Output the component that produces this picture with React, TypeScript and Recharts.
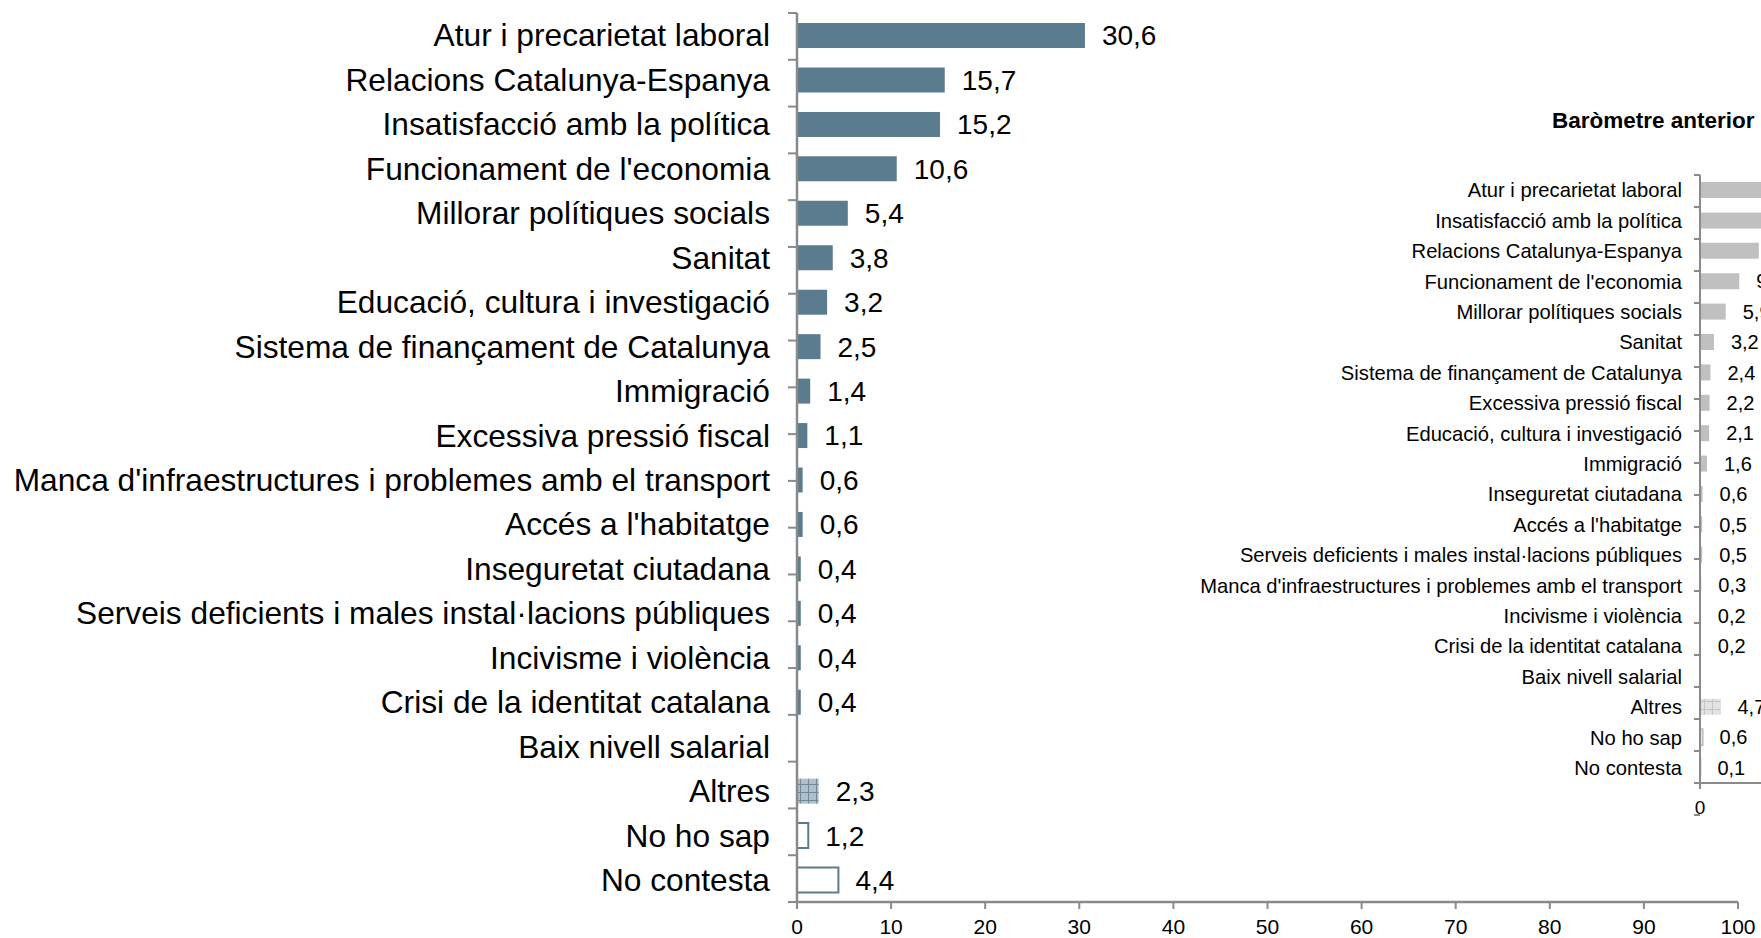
import React from "react";
import { Bar, BarChart, Cell, LabelList, XAxis, YAxis } from "recharts";

// Current barometer (main) and previous barometer (inset, cut off at the right edge).

const mainLabels = [
  "Atur i precarietat laboral",
  "Relacions Catalunya-Espanya",
  "Insatisfacció amb la política",
  "Funcionament de l'economia",
  "Millorar polítiques socials",
  "Sanitat",
  "Educació, cultura i investigació",
  "Sistema de finançament de Catalunya",
  "Immigració",
  "Excessiva pressió fiscal",
  "Manca d'infraestructures i problemes amb el transport",
  "Accés a l'habitatge",
  "Inseguretat ciutadana",
  "Serveis deficients i males instal·lacions públiques",
  "Incivisme i violència",
  "Crisi de la identitat catalana",
  "Baix nivell salarial",
  "Altres",
  "No ho sap",
  "No contesta",
];
const mainValues: (number | null)[] = [
  30.6, 15.7, 15.2, 10.6, 5.4, 3.8, 3.2, 2.5, 1.4, 1.1, 0.6, 0.6, 0.4, 0.4, 0.4, 0.4, null, 2.3,
  1.2, 4.4,
];

const prevLabels = [
  "Atur i precarietat laboral",
  "Insatisfacció amb la política",
  "Relacions Catalunya-Espanya",
  "Funcionament de l'economia",
  "Millorar polítiques socials",
  "Sanitat",
  "Sistema de finançament de Catalunya",
  "Excessiva pressió fiscal",
  "Educació, cultura i investigació",
  "Immigració",
  "Inseguretat ciutadana",
  "Accés a l'habitatge",
  "Serveis deficients i males instal·lacions públiques",
  "Manca d'infraestructures i problemes amb el transport",
  "Incivisme i violència",
  "Crisi de la identitat catalana",
  "Baix nivell salarial",
  "Altres",
  "No ho sap",
  "No contesta",
];
const prevValues: (number | null)[] = [
  29.8, 16.9, 13.5, 9.0, 5.9, 3.2, 2.4, 2.2, 2.1, 1.6, 0.6, 0.5, 0.5, 0.3, 0.2, 0.2, null, 4.7,
  0.6, 0.1,
];

const mainTicks = [0, 10, 20, 30, 40, 50, 60, 70, 80, 90, 100];
const prevTicks = [0, 20, 40, 60, 80, 100];

const FONT = "'Liberation Sans', Arial, sans-serif";
const AXIS = "#8a8a8a";
const BLUE = "#5b7c8f";
const GREY = "#c0c0c0";

const mainData = mainLabels.map((name, i) => ({ name, value: mainValues[i] }));
const prevData = prevLabels.map((name, i) => ({ name, value: prevValues[i] }));
const boundaries = (n: number) => Array.from({ length: n + 1 }, (_, i) => i);

const fmt = (v: unknown) => (v == null ? "" : Number(v).toFixed(1).replace(".", ","));

// tick marks only, no text (the category axis carries the labels)
const NoLabel = () => <g />;

function cellStyle(name: string, main: boolean) {
  const c = main ? BLUE : GREY;
  if (name === "Altres") return { fill: main ? "url(#altresMain)" : "url(#altresPrev)", stroke: "none" };
  if (name === "No ho sap" || name === "No contesta")
    return { fill: "#ffffff", stroke: c, strokeWidth: 2 };
  return { fill: c, stroke: "none" };
}

function Patterns() {
  return (
    <svg width={0} height={0} style={{ position: "absolute" }}>
      <defs>
        <pattern id="altresMain" width={8} height={8} patternUnits="userSpaceOnUse">
          <rect width={8} height={8} fill="#aebfca" />
          <path d="M0 0.5H8M0.5 0V8" stroke="#6f899a" strokeWidth={1} />
        </pattern>
        <pattern id="altresPrev" width={8} height={8} patternUnits="userSpaceOnUse">
          <rect width={8} height={8} fill="#e2e2e2" />
          <path d="M0 0.5H8M0.5 0V8" stroke="#c4c4c4" strokeWidth={1} />
        </pattern>
      </defs>
    </svg>
  );
}

function MainChart() {
  return (
    <BarChart
      layout="vertical"
      width={1761}
      height={938}
      data={mainData}
      margin={{ top: 13, right: 23, left: 0, bottom: 0 }}
    >
      <XAxis
        type="number"
        domain={[0, 100]}
        ticks={mainTicks}
        height={36}
        tickSize={7}
        tickMargin={10}
        tick={{ fontSize: 21, fill: "#000", fontFamily: FONT }}
        axisLine={{ stroke: AXIS, strokeWidth: 2.5 }}
        tickLine={{ stroke: AXIS, strokeWidth: 2 }}
      />
      <YAxis
        yAxisId="cat"
        type="category"
        dataKey="name"
        width={796}
        interval={0}
        tickLine={false}
        axisLine={false}
        tickSize={0}
        tickMargin={26}
        tick={{ fontSize: 31.7, fill: "#000", fontFamily: FONT }}
      />
      <YAxis
        yAxisId="a_grid"
        type="number"
        domain={[0, mainLabels.length]}
        allowDataOverflow
        ticks={boundaries(mainLabels.length)}
        interval={0}
        width={1}
        tick={NoLabel}
        tickSize={9}
        axisLine={{ stroke: AXIS, strokeWidth: 2.5 }}
        tickLine={{ stroke: AXIS, strokeWidth: 2 }}
      />
      <Bar yAxisId="cat" dataKey="value" barSize={25} isAnimationActive={false}>
        {mainData.map((d) => (
          <Cell key={d.name} {...cellStyle(d.name, true)} />
        ))}
        <LabelList
          dataKey="value"
          position="right"
          offset={17}
          formatter={fmt}
          style={{ fontSize: 28, fill: "#000", fontFamily: FONT }}
        />
      </Bar>
    </BarChart>
  );
}

function PrevChart() {
  return (
    <BarChart
      layout="vertical"
      width={1146}
      height={658}
      data={prevData}
      margin={{ top: 10, right: 10, left: 0, bottom: 0 }}
    >
      <XAxis
        type="number"
        domain={[0, 100]}
        ticks={prevTicks}
        height={40}
        tickSize={6}
        tickMargin={12}
        tick={{ fontSize: 19, fill: "#000", fontFamily: FONT }}
        axisLine={{ stroke: AXIS, strokeWidth: 2 }}
        tickLine={{ stroke: AXIS, strokeWidth: 2 }}
      />
      <YAxis
        yAxisId="cat"
        type="category"
        dataKey="name"
        width={699}
        interval={0}
        tickLine={false}
        axisLine={false}
        tickSize={0}
        tickMargin={17}
        tick={{ fontSize: 20.2, fill: "#000", fontFamily: FONT }}
      />
      <YAxis
        yAxisId="a_grid"
        type="number"
        domain={[0, prevLabels.length]}
        allowDataOverflow
        ticks={boundaries(prevLabels.length)}
        interval={0}
        width={1}
        tick={NoLabel}
        tickSize={6}
        axisLine={{ stroke: AXIS, strokeWidth: 2 }}
        tickLine={{ stroke: AXIS, strokeWidth: 2 }}
      />
      <Bar yAxisId="cat" dataKey="value" barSize={16} isAnimationActive={false}>
        {prevData.map((d) => (
          <Cell key={d.name} {...cellStyle(d.name, false)} />
        ))}
        <LabelList
          dataKey="value"
          position="right"
          offset={17}
          formatter={fmt}
          style={{ fontSize: 20, fill: "#000", fontFamily: FONT }}
        />
      </Bar>
    </BarChart>
  );
}

export default function App() {
  return (
    <div
      style={{
        position: "absolute",
        left: 0,
        top: 0,
        width: 1761,
        height: 938,
        overflow: "hidden",
        background: "#fff",
        fontFamily: FONT,
      }}
    >
      <Patterns />
      <div style={{ position: "absolute", left: 0, top: 0 }}>
        <MainChart />
      </div>
      <div
        style={{
          position: "absolute",
          left: 1552,
          top: 108,
          fontSize: 22.5,
          fontWeight: "bold",
          lineHeight: "26px",
          whiteSpace: "nowrap",
          color: "#000",
        }}
      >
        Baròmetre anterior
      </div>
      <div style={{ position: "absolute", left: 1000, top: 165 }}>
        <PrevChart />
      </div>
    </div>
  );
}
